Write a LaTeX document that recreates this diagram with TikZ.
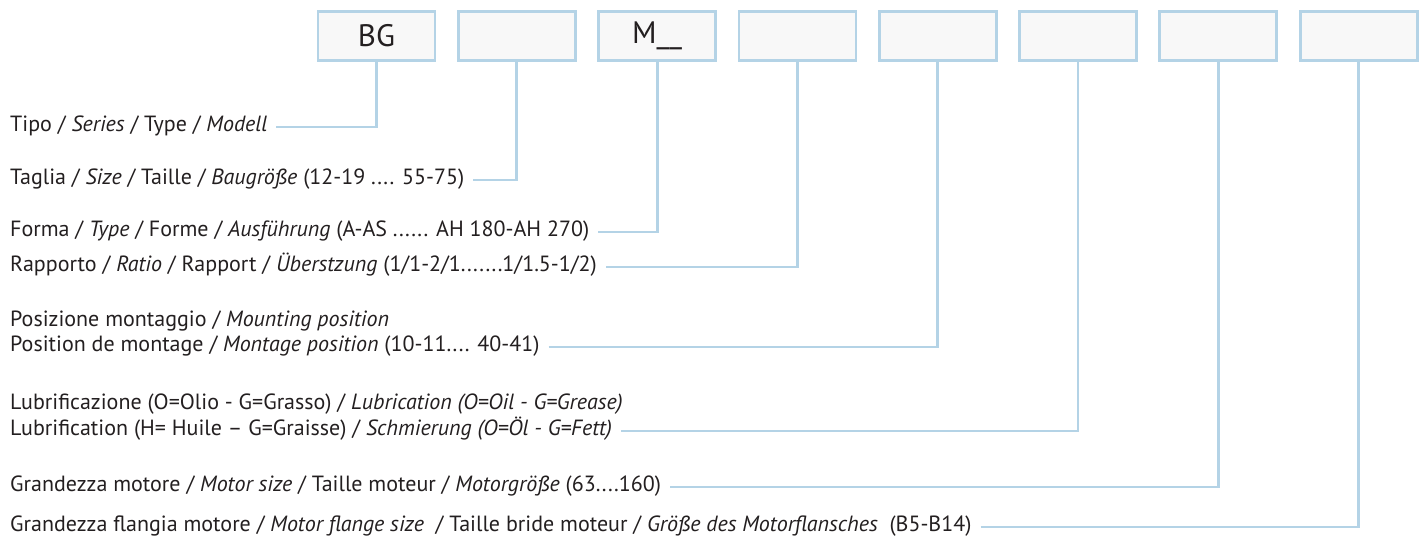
\documentclass[tikz,border=0pt]{standalone}
\usepackage{fontspec}
\setmainfont{PT Sans}
\usepackage{tikz}
\usetikzlibrary{positioning}
\definecolor{lineblue}{HTML}{B4D3E6}
\definecolor{boxgrey}{HTML}{F8F8F8}
\definecolor{ink}{HTML}{231F20}

\begin{document}
\begin{tikzpicture}[x=1pt, y=-1pt,
    codebox/.style={draw=lineblue, line width=2.8pt, fill=boxgrey,
      minimum width=117pt, minimum height=49.5pt, inner sep=0pt,
      font=\fontsize{31}{35}\selectfont, text=ink},
    desc/.style={anchor=west, inner xsep=9pt, inner ysep=0pt,
      text height=1.15em, text depth=0.2em,
      font=\fontsize{22}{26}\selectfont, text=ink},
    conn/.style={draw=lineblue, line width=2.8pt}]
  \useasboundingbox (0,0) rectangle (1422,541);

  % code boxes
  \node[codebox] (b1) at (376.5,36) {BG};
  \node[codebox, right=20.5pt of b1] (b2) {};
  \node[codebox, right=20.5pt of b2] (b3) {M\_\_};
  \node[codebox, right=20.5pt of b3] (b4) {};
  \node[codebox, right=20.5pt of b4] (b5) {};
  \node[codebox, right=20.5pt of b5] (b6) {};
  \node[codebox, right=20.5pt of b6] (b7) {};
  \node[codebox, right=20.5pt of b7] (b8) {};

  % descriptions
  \node[desc] (t1) at (1,127) {Tipo / \textit{Series} / Type / \textit{Modell}};
  \node[desc] (t2) at (1,180) {Taglia / \textit{Size} / Taille / \textit{Baugröße} (12-19 .... 55-75)};
  \node[desc] (t3) at (1,232) {Forma / \textit{Type} / Forme / \textit{Ausführung} (A-AS ...... AH 180-AH 270)};
  \node[desc] (t4) at (1,267) {Rapporto / \textit{Ratio} / Rapport / \textit{Überstzung} (1/1-2/1.......1/1.5-1/2)};
  \node[desc] (t5a) at (1,322) {Posizione montaggio / \textit{Mounting position}};
  \node[desc] (t5) at (1,347) {Position de montage / \textit{Montage position} (10-11.... 40-41)};
  \node[desc] (t6a) at (1,405) {Lubrificazione (O=Olio - G=Grasso) / \textit{Lubrication (O=Oil - G=Grease)}};
  \node[desc] (t6) at (1,431) {Lubrification (H= Huile – G=Graisse) / \textit{Schmierung (O=Öl - G=Fett)}};
  \node[desc] (t7) at (1,487) {Grandezza motore / \textit{Motor size} / Taille moteur / \textit{Motorgröße} (63....160)};
  \node[desc] (t8) at (1,527) {Grandezza flangia motore / \textit{Motor flange size}\ \ / Taille bride moteur / \textit{Größe des Motorflansches}\ \ (B5-B14)};

  % leader lines
  \draw[conn] (t1.east) -| (b1.south);
  \draw[conn] (t2.east) -| (b2.south);
  \draw[conn] (t3.east) -| (b3.south);
  \draw[conn] (t4.east) -| (b4.south);
  \draw[conn] (t5.east) -| (b5.south);
  \draw[conn] (t6.east) -| (b6.south);
  \draw[conn] (t7.east) -| (b7.south);
  \draw[conn] (t8.east) -| (b8.south);
\end{tikzpicture}
\end{document}
